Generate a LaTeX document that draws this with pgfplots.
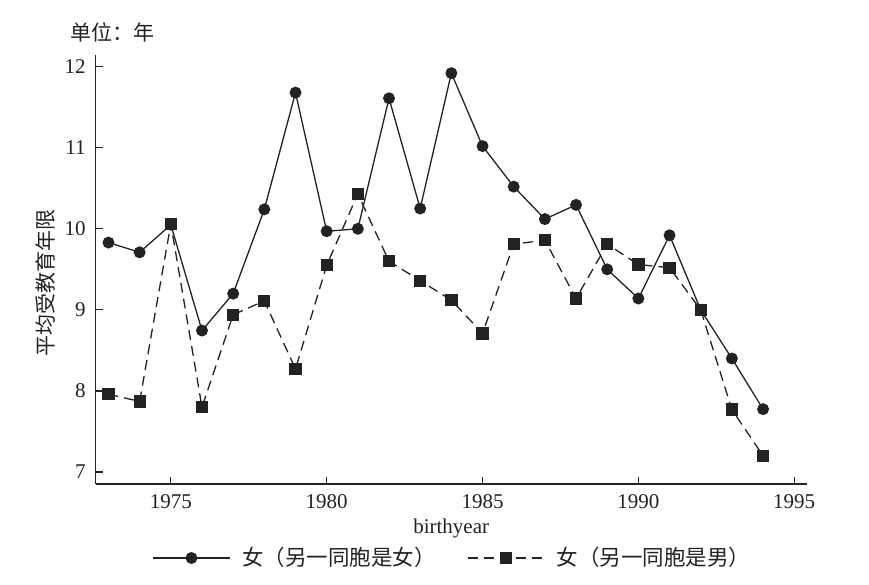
\documentclass[border=0pt]{standalone}
\usepackage{pgfplots}
\pgfplotsset{compat=1.18}
\usepackage{fontspec}
\setmainfont{Liberation Serif}
\newfontfamily\cjk{Noto Sans CJK SC}
\definecolor{ink}{HTML}{222222}
\begin{document}
\fontsize{21}{25}\selectfont
\begin{tikzpicture}
\begin{axis}[
  scale only axis,
  width=711pt, height=429pt,
  xmin=1972.59, xmax=1995.4,
  ymin=6.852, ymax=12.144,
  axis lines*=left,
  axis line style={ink, line width=1.2pt},
  xtick={1975,1980,1985,1990,1995},
  ytick={7,8,9,10,11,12},
  tick align=inside,
  tick style={ink, line width=1.2pt},
  major tick length=7pt,
  /pgf/number format/assume math mode=true,
  /pgf/number format/1000 sep={},
  tick label style={font=\fontsize{21}{25}\selectfont, text=ink},
  xticklabel style={yshift=-3pt},
  yticklabel style={xshift=-3pt},
  xlabel={birthyear},
  xlabel style={font=\fontsize{21}{25}\selectfont, text=ink, at={(rel axis cs:0.5,0)}, anchor=center, yshift=-44pt},
  ylabel={\cjk 平均受教育年限},
  ylabel style={font=\fontsize{21}{25}\selectfont, text=ink, at={([xshift=-50.7pt]rel axis cs:0,0.468)}, anchor=center, rotate=0},
  legend style={draw=none, fill=none, at={([xshift=5pt]rel axis cs:0.495,0)}, anchor=center, yshift=-74pt,
    legend columns=2, font=\fontsize{21.5}{25}\selectfont, text=ink, inner sep=0pt,
    /tikz/every odd column/.append style={column sep=9pt},
    /tikz/every even column/.append style={column sep=30pt}},
  legend image code/.code={\draw[#1, mark repeat=2, mark phase=2] plot coordinates {(0pt,0pt) (38pt,0pt) (77pt,0pt)};},
  clip=false,
]
\addplot[ink, line width=1.3pt, mark=*, mark size=5.3pt, mark options={solid, fill=ink}] coordinates {
(1973,9.83) (1974,9.71) (1975,10.05) (1976,8.745) (1977,9.20) (1978,10.24)
(1979,11.68) (1980,9.97) (1981,10.00) (1982,11.61) (1983,10.25) (1984,11.92)
(1985,11.02) (1986,10.52) (1987,10.12) (1988,10.295) (1989,9.50) (1990,9.14)
(1991,9.92) (1992,9.00) (1993,8.40) (1994,7.775)
};
\addlegendentry{\cjk 女（另一同胞是女）}
\addplot[ink, line width=1.3pt, dash pattern=on 10pt off 6pt, mark=square*, mark size=5.5pt, mark options={solid, fill=ink}] coordinates {
(1973,7.96) (1974,7.87) (1975,10.06) (1976,7.80) (1977,8.94) (1978,9.11)
(1979,8.27) (1980,9.55) (1981,10.43) (1982,9.60) (1983,9.36) (1984,9.12)
(1985,8.71) (1986,9.81) (1987,9.86) (1988,9.14) (1989,9.81) (1990,9.56)
(1991,9.52) (1992,9.00) (1993,7.77) (1994,7.20)
};
\addlegendentry{\cjk 女（另一同胞是男）}
\node[anchor=west, inner sep=0pt, text=ink, font=\fontsize{21}{25}\selectfont\cjk] at ([xshift=-25.7pt, yshift=23pt]rel axis cs:0,1) {单位：年};
\end{axis}
\pgfresetboundingbox
\path (-95.7pt,-101pt) rectangle (773.3pt,484pt);
\end{tikzpicture}
\end{document}
